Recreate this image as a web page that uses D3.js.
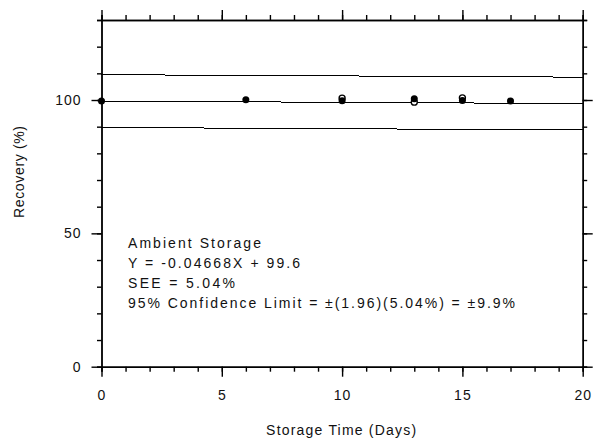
<!DOCTYPE html>
<html>
<head>
<meta charset="utf-8">
<script src="https://cdn.jsdelivr.net/npm/d3@7"></script>
<style>
  body { margin: 0; background: #fff; }
  svg { display: block; }
  text { font-family: "Liberation Sans", Arial, sans-serif; fill: #111; }
</style>
</head>
<body>
<div id="chart"></div>
<script>
// datos
const filledDays = [0, 6, 10, 13, 15, 17];
const filledRecovery = [99.6, 100.1, 99.7, 100.5, 99.8, 99.6];
const openDays = [10, 13, 15];
const openRecovery = [100.7, 99.2, 100.8];

const slope = -0.04668;
const intercept = 99.6;
const confLimit = 9.9;

const xMajorTicks = [0, 5, 10, 15, 20];
const yMajorTicks = [0, 50, 100];

const notes = [
  'Ambient Storage',
  'Y = -0.04668X + 99.6',
  'SEE = 5.04%',
  '95% Confidence Limit = \u00b1(1.96)(5.04%) = \u00b19.9%'
];
const notesWidth = [133, 172, 107, 387];

const width = 595;
const height = 442;
const margin = { top: 20, right: 12.3, bottom: 75.3, left: 101.5 };

const svg = d3.select('#chart')
  .append('svg')
  .attr('width', width)
  .attr('height', height);

const x = d3.scaleLinear()
  .domain([0, 20])
  .range([margin.left, width - margin.right]);

const y = d3.scaleLinear()
  .domain([0, 130])
  .range([height - margin.bottom, margin.top]);

// lineas de regresion y limites de confianza
const lineData = [intercept + confLimit, intercept, intercept - confLimit].map(b => [
  [0, b], [20, b + slope * 20]
]);

const line = d3.line()
  .x(d => x(d[0]))
  .y(d => y(d[1]));

svg.append('g')
  .selectAll('path')
  .data(lineData)
  .enter()
  .append('path')
  .attr('d', line)
  .attr('fill', 'none')
  .attr('stroke', '#000')
  .attr('stroke-width', 1)
  .attr('shape-rendering', 'crispEdges');

// ejes
function drawAxis(axis, transform) {
  const g = svg.append('g')
    .attr('transform', transform)
    .call(axis);
  g.selectAll('.domain, line')
    .attr('stroke', '#000')
    .attr('stroke-width', 1.4);
  g.selectAll('text')
    .attr('font-size', 14)
    .attr('letter-spacing', 1)
    .attr('font-family', '"Liberation Sans", Arial, sans-serif')
    .attr('fill', '#111');
  return g;
}

const bottomY = height - margin.bottom;
const rightX = width - margin.right;

drawAxis(d3.axisBottom(x).tickValues(d3.range(0, 21)).tickSize(5).tickFormat(''), `translate(0,${bottomY})`);
drawAxis(d3.axisBottom(x).tickValues(xMajorTicks).tickSize(10).tickPadding(13).tickSizeOuter(0), `translate(0,${bottomY})`);
drawAxis(d3.axisTop(x).tickValues(d3.range(0, 21)).tickSize(5).tickFormat(''), `translate(0,${margin.top})`);
drawAxis(d3.axisTop(x).tickValues(xMajorTicks).tickSize(10).tickFormat('').tickSizeOuter(0), `translate(0,${margin.top})`);

drawAxis(d3.axisLeft(y).tickValues(d3.range(0, 131, 10)).tickSize(4.5).tickFormat(''), `translate(${margin.left},0)`);
drawAxis(d3.axisLeft(y).tickValues(yMajorTicks).tickSize(10).tickPadding(10).tickSizeOuter(0), `translate(${margin.left},0)`);
drawAxis(d3.axisRight(y).tickValues(d3.range(0, 131, 10)).tickSize(4.5).tickFormat(''), `translate(${rightX},0)`);
drawAxis(d3.axisRight(y).tickValues(yMajorTicks).tickSize(10).tickFormat('').tickSizeOuter(0), `translate(${rightX},0)`);

// puntos
svg.append('g')
  .selectAll('circle')
  .data(openDays.map((d, i) => [d, openRecovery[i]]))
  .enter()
  .append('circle')
  .attr('cx', d => x(d[0]))
  .attr('cy', d => y(d[1]))
  .attr('r', 3)
  .attr('fill', '#fff')
  .attr('stroke', '#000')
  .attr('stroke-width', 1.4);

svg.append('g')
  .selectAll('circle')
  .data(filledDays.map((d, i) => [d, filledRecovery[i]]))
  .enter()
  .append('circle')
  .attr('cx', d => x(d[0]))
  .attr('cy', d => y(d[1]))
  .attr('r', 3.5)
  .attr('fill', '#000');

// texto de la regresion
svg.append('g')
  .selectAll('text')
  .data(notes)
  .enter()
  .append('text')
  .attr('x', 128)
  .attr('y', (d, i) => 247.5 + i * 20)
  .attr('font-size', 14)
  .attr('textLength', (d, i) => notesWidth[i])
  .attr('lengthAdjust', 'spacing')
  .text(d => d);

// titulos de ejes
svg.append('text')
  .attr('x', (margin.left + rightX) / 2 - 1)
  .attr('y', 435)
  .attr('text-anchor', 'middle')
  .attr('font-size', 14)
  .attr('textLength', 150)
  .attr('lengthAdjust', 'spacing')
  .text('Storage Time (Days)');

svg.append('text')
  .attr('transform', 'translate(24,172) rotate(-90)')
  .attr('text-anchor', 'middle')
  .attr('font-size', 14)
  .attr('textLength', 92)
  .attr('lengthAdjust', 'spacing')
  .text('Recovery (%)');
</script>
</body>
</html>
